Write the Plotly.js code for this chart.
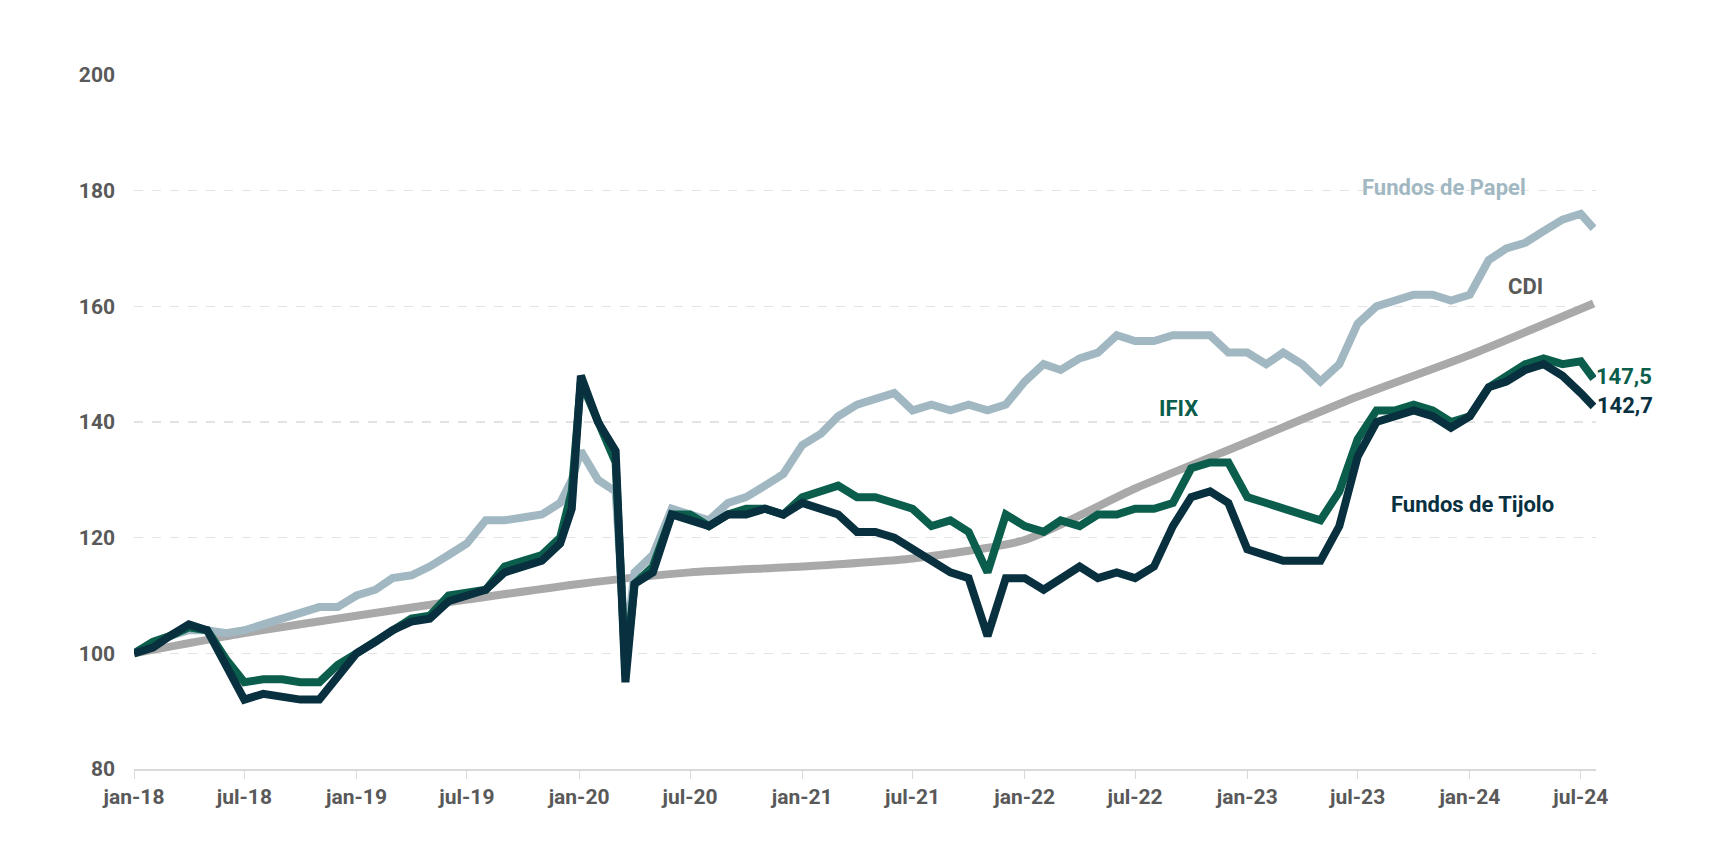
<!DOCTYPE html>
<html>
<head>
<meta charset="utf-8">
<script src="https://cdn.plot.ly/plotly-3.0.1.min.js"></script>
<style>html,body{margin:0;background:#fff}#chart{width:1718px;height:860px}</style>
</head>
<body>
<div id="chart"></div>
<script>
// monthly points jan-18 .. jul-24, plus the Jan-20 peak, the Mar-20 crash and the last print
var dates = [];
for (var y = 2018; y <= 2024; y++) {
  for (var m = 1; m <= 12; m++) {
    if (y === 2024 && m > 7) break;
    var d = y + "-" + (m < 10 ? "0" + m : m) + "-01";
    if (d === "2020-01-01") {
      dates.push("2019-12-20");
      dates.push("2020-01-04");
      continue;
    }
    dates.push(d);
    if (d === "2020-03-01") dates.push("2020-03-17");
  }
}
dates.push("2024-07-22");

var ifix = [100,102,103,104.5,104,99,95,95.5,95.5,95,95,98,
  100,102,104,106,106.5,110,110.5,111,115,116,117,120,
  128,147,140,133,97,112,115,124,124,122,124,125,125,124,
  127,128,129,127,127,126,125,122,123,121,114,124,
  122,121,123,122,124,124,125,125,126,132,133,133,
  127,126,125,124,123,128,137,142,142,143,142,140,
  141,146,148,150,151,150,150.5,147.5];
var tijolo = [100,101,103,105,104,98,92,93,92.5,92,92,96,
  100,102,104,105.5,106,109,110,111,114,115,116,119,
  125,148,140,135,95,112,114,124,123,122,124,124,125,124,
  126,125,124,121,121,120,118,116,114,113,103,113,
  113,111,113,115,113,114,113,115,122,127,128,126,
  118,117,116,116,116,122,134,140,141,142,141,139,
  141,146,147,149,150,148,145,142.7];
var papel = [100,102,103,104,104,103.5,104,105,106,107,108,108,
  110,111,113,113.5,115,117,119,123,123,123.5,124,126,
  130,135,130,128,101,114,117,125,124,123,126,127,129,131,
  136,138,141,143,144,145,142,143,142,143,142,143,
  147,150,149,151,152,155,154,154,155,155,155,152,
  152,150,152,150,147,150,157,160,161,162,162,161,
  162,168,170,171,173,175,176,173.5];

var cdiDates = ["2018-01-01","2018-07-01","2019-01-01","2019-07-01","2020-01-01","2020-07-01",
  "2021-01-01","2021-07-01","2022-01-01","2022-07-01","2023-01-01","2023-07-01","2024-01-01","2024-07-22"];
var cdi = [100,103.5,106.5,109.3,112,114,115,116.4,119.6,128.5,136.5,144.4,151.6,160.5];

var tickVals = ["2018-01-01","2018-07-01","2019-01-01","2019-07-01","2020-01-01","2020-07-01",
  "2021-01-01","2021-07-01","2022-01-01","2022-07-01","2023-01-01","2023-07-01","2024-01-01","2024-07-01"];
var tickText = ["jan-18","jul-18","jan-19","jul-19","jan-20","jul-20","jan-21","jul-21",
  "jan-22","jul-22","jan-23","jul-23","jan-24","jul-24"];

var cPapel = "#a1b8c2", cIfix = "#0b5e4b", cTijolo = "#08303f", cCdi = "#a9a9a9", cText = "#595959";

function line(x, yv, color, shape) {
  return { type: "scatter", mode: "lines", x: x, y: yv, hoverinfo: "skip",
    line: { color: color, width: 8, shape: shape || "linear", smoothing: 0.6 } };
}

var traces = [
  line(cdiDates, cdi, cCdi, "spline"),
  line(dates, papel, cPapel),
  line(dates, ifix, cIfix),
  line(dates, tijolo, cTijolo)
];

function note(text, x, yv, color, anchor) {
  return { text: "<b>" + text + "</b>", x: x, y: yv, xref: "x", yref: "y", showarrow: false,
    xanchor: anchor || "center", font: { family: "Roboto", size: 22, color: color } };
}

var layout = {
  width: 1718, height: 860,
  margin: { l: 134, r: 122, t: 75, b: 91 },
  paper_bgcolor: "#fff", plot_bgcolor: "#fff",
  showlegend: false,
  font: { family: "Roboto", color: cText },
  xaxis: {
    type: "date", range: ["2018-01-01", "2024-07-26"],
    tickvals: tickVals, ticktext: tickText.map(function (t) { return "<b>" + t + "</b>"; }),
    tickfont: { size: 21, color: cText }, showgrid: false,
    showline: true, linecolor: "#d9d9d9", linewidth: 1.5,
    ticks: "outside", tickcolor: "#d9d9d9", ticklen: 8, zeroline: false
  },
  yaxis: {
    range: [80, 200], tickvals: [80, 100, 120, 140, 160, 180, 200],
    ticktext: ["80","100","120","140","160","180","200"].map(function (t) { return "<b>" + t + "</b>"; }),
    tickfont: { size: 21, color: cText }, ticklabelstandoff: 18,
    showgrid: true, gridcolor: "#e3e3e3", griddash: "dash", gridwidth: 1.5,
    zeroline: false, showline: false
  },
  annotations: [
    note("Fundos de Papel", "2023-11-20", 180.5, cPapel),
    note("CDI", "2024-04-01", 163.4, cText),
    note("IFIX", "2022-09-10", 142.3, cIfix),
    note("Fundos de Tijolo", "2024-01-05", 125.7, cTijolo),
    note("173,5", "2024-07-30", 173.3, cPapel, "left"),
    note("160,5", "2024-07-28", 160.4, cText, "left"),
    note("147,5", "2024-07-22", 147.8, cIfix, "left"),
    note("142,7", "2024-07-24", 142.9, cTijolo, "left")
  ]
};

Plotly.newPlot("chart", traces, layout, { displayModeBar: false, staticPlot: true });
</script>
</body>
</html>
